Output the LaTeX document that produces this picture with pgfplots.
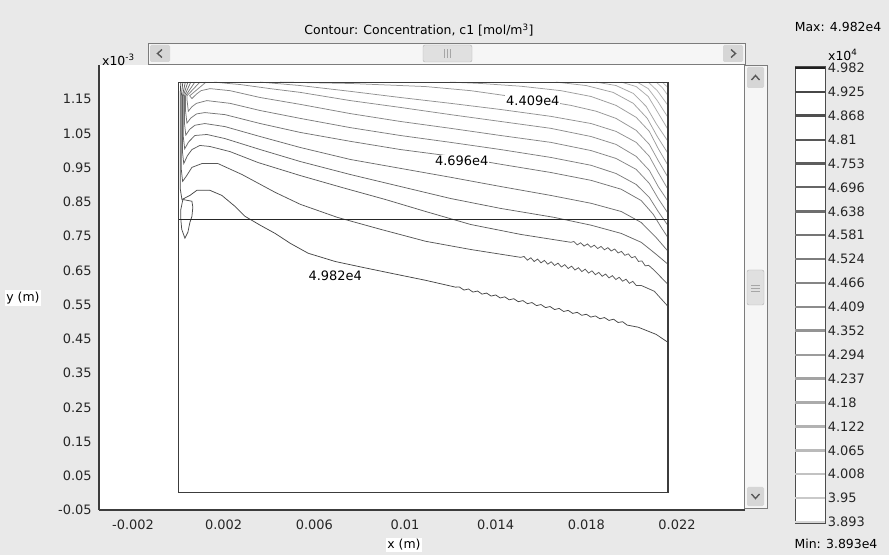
\documentclass[border=0pt]{standalone}
\usepackage{fontspec}
\setmainfont{DejaVu Sans}
\usepackage{pgfplots}
\pgfplotsset{compat=1.18}
\definecolor{bg}{HTML}{E9E9E9}
\definecolor{sbfill}{HTML}{F6F6F6}
\definecolor{sbedge}{HTML}{7C7C7C}
\definecolor{btn}{HTML}{D6D6D6}
\definecolor{frame}{HTML}{3C3C3C}
\newcommand\uif{\fontsize{12.5}{15}\selectfont}
\newcommand\tkf{\fontsize{13}{15}\selectfont}
\begin{document}
\uif
\begin{tikzpicture}
% window background
\fill[bg] (-99bp,-45bp) rectangle (790bp,510bp);

\begin{axis}[
    at={(0bp,0bp)}, anchor=south west,
    scale only axis, width=646bp, height=445bp,
    xmin=-0.0035, xmax=0.025, ymin=-0.05, ymax=1.25,
    axis x line*=bottom, axis y line*=left,
    axis line style={frame, line width=1.2bp},
    axis background/.style={fill=white},
    major tick length=0pt,
    scaled ticks=false,
    xtick={-0.002,0.002,0.006,0.01,0.014,0.018,0.022},
    xticklabels={-0.002,0.002,0.006,0.01,0.014,0.018,0.022},
    ytick={-0.05,0.05,0.15,0.25,0.35,0.45,0.55,0.65,0.75,0.85,0.95,1.05,1.15},
    yticklabels={-0.05,0.05,0.15,0.25,0.35,0.45,0.55,0.65,0.75,0.85,0.95,1.05,1.15},
    tick label style={font=\tkf, text=black!85},
    xticklabel style={yshift=-6bp},
    yticklabel style={xshift=-3bp},
    every axis plot/.append style={line width=0.75bp},
]

% contour lines, from 4.982e4 (bottom) upwards
\addplot[black!72] coordinates {(0.11e-3,1.2)(0.08e-3,1.16)(0.08e-3,0.89)(0.16e-3,0.857)(0.51e-3,0.869)(0.82e-3,0.884)(1.39e-3,0.884)(1.92e-3,0.869)(2.5e-3,0.837)(2.94e-3,0.808)(3.61e-3,0.782)(4.27e-3,0.758)(4.94e-3,0.729)(5.73e-3,0.7)(6.92e-3,0.676)(8.12e-3,0.659)(9.58e-3,0.639)(10.91e-3,0.621)(12.23e-3,0.601)
 (12.4e-3,0.6015)(12.6e-3,0.5925)(12.8e-3,0.5956)(13.0e-3,0.5866)(13.2e-3,0.5897)(13.4e-3,0.5807)(13.6e-3,0.5837)(13.8e-3,0.5749)(14.0e-3,0.5782)(14.2e-3,0.5694)(14.4e-3,0.5727)(14.6e-3,0.564)(14.8e-3,0.5672)(15.0e-3,0.5585)(15.2e-3,0.5617)(15.4e-3,0.5528)(15.6e-3,0.556)(15.8e-3,0.5471)(16.0e-3,0.5502)(16.2e-3,0.5413)(16.4e-3,0.5444)(16.6e-3,0.5356)(16.8e-3,0.5388)(17.0e-3,0.5299)(17.2e-3,0.5331)(17.4e-3,0.5243)(17.6e-3,0.5275)(17.8e-3,0.5187)(18.0e-3,0.5219)(18.2e-3,0.5135)(18.4e-3,0.517)(18.6e-3,0.5086)(18.8e-3,0.5122)(19.0e-3,0.5038)(19.2e-3,0.5074)(19.4e-3,0.4978)(19.6e-3,0.5)(19.8e-3,0.4902)
 (20.29e-3,0.484)(21.08e-3,0.463)(21.6e-3,0.44)};
\addplot[black!66] coordinates {(0.2e-3,1.2)(0.13e-3,1.16)(0.13e-3,0.945)(0.19e-3,0.91)(0.35e-3,0.925)(0.6e-3,0.951)(1.04e-3,0.962)(1.75e-3,0.962)(2.81e-3,0.93)(4.27e-3,0.878)(5.38e-3,0.843)(7.01e-3,0.805)(8.92e-3,0.77)(10.91e-3,0.735)(12.9e-3,0.711)(15.11e-3,0.688)
 (15.25e-3,0.6907)(15.4e-3,0.6798)(15.55e-3,0.6868)(15.7e-3,0.6759)(15.85e-3,0.683)(16.0e-3,0.672)(16.15e-3,0.6791)(16.3e-3,0.6681)(16.45e-3,0.6752)(16.6e-3,0.6643)(16.75e-3,0.6712)(16.9e-3,0.6599)(17.05e-3,0.6667)(17.2e-3,0.6555)(17.35e-3,0.6623)(17.5e-3,0.6511)(17.65e-3,0.6579)(17.8e-3,0.6466)(17.95e-3,0.6534)(18.1e-3,0.6422)(18.25e-3,0.6488)(18.4e-3,0.6374)(18.55e-3,0.6441)(18.7e-3,0.6327)(18.85e-3,0.6393)(19.0e-3,0.628)(19.15e-3,0.6346)(19.3e-3,0.6233)(19.45e-3,0.6299)(19.6e-3,0.6183)(19.75e-3,0.6242)(19.9e-3,0.6121)(20.05e-3,0.618)(20.2e-3,0.606)
 (20.42e-3,0.606)(21e-3,0.589)(21.6e-3,0.545)};
\addplot[black!63] coordinates {(0.31e-3,1.2)(0.18e-3,1.16)(0.18e-3,0.997)(0.24e-3,0.962)(0.4e-3,0.985)(0.6e-3,1.003)(0.95e-3,1.015)(1.39e-3,1.012)(2.28e-3,0.997)(3.52e-3,0.965)(5.38e-3,0.927)(7.23e-3,0.892)(9.14e-3,0.857)(10.91e-3,0.822)(12.9e-3,0.784)(15.11e-3,0.755)(17.32e-3,0.732)
 (17.45e-3,0.7344)(17.6e-3,0.7246)(17.75e-3,0.7308)(17.9e-3,0.721)(18.05e-3,0.7272)(18.2e-3,0.7174)(18.35e-3,0.7236)(18.5e-3,0.7138)(18.65e-3,0.72)(18.8e-3,0.7102)(18.95e-3,0.7164)(19.1e-3,0.7066)(19.25e-3,0.7125)(19.4e-3,0.701)(19.55e-3,0.7054)(19.7e-3,0.6939)(19.85e-3,0.6984)(20.0e-3,0.6868)(20.15e-3,0.6907)(20.3e-3,0.6762)(20.45e-3,0.6777)(20.6e-3,0.6632)(20.75e-3,0.6648)
 (21e-3,0.65)(21.6e-3,0.609)};
\addplot[black!60] coordinates {(0.42e-3,1.2)(0.22e-3,1.16)(0.22e-3,1.04)(0.28e-3,1.005)(0.45e-3,1.025)(0.73e-3,1.044)(1.26e-3,1.047)(2.06e-3,1.035)(3.61e-3,1.003)(5.38e-3,0.968)(7.59e-3,0.93)(9.8e-3,0.895)(12.01e-3,0.86)(14.22e-3,0.831)(16.57e-3,0.805)(18.21e-3,0.782)(19.54e-3,0.758)(20.42e-3,0.732)(21.08e-3,0.697)(21.6e-3,0.668)};
\addplot[black!57] coordinates {(0.55e-3,1.2)(0.27e-3,1.16)(0.27e-3,1.08)(0.33e-3,1.045)(0.5e-3,1.062)(0.73e-3,1.074)(1.17e-3,1.079)(2.06e-3,1.07)(3.61e-3,1.041)(5.38e-3,1.009)(7.59e-3,0.974)(9.8e-3,0.948)(12.01e-3,0.922)(14.22e-3,0.895)(16.43e-3,0.869)(18.21e-3,0.846)(19.54e-3,0.822)(20.42e-3,0.79)(21.08e-3,0.746)(21.6e-3,0.706)};
\addplot[black!54] coordinates {(0.73e-3,1.2)(0.32e-3,1.16)(0.32e-3,1.115)(0.38e-3,1.08)(0.55e-3,1.095)(0.8e-3,1.107)(1.17e-3,1.111)(2.06e-3,1.105)(3.61e-3,1.079)(5.38e-3,1.053)(7.59e-3,1.027)(9.8e-3,1.003)(12.46e-3,0.98)(14.22e-3,0.96)(16.43e-3,0.936)(18.21e-3,0.913)(19.54e-3,0.887)(20.42e-3,0.854)(20.95e-3,0.814)(21.3e-3,0.776)(21.6e-3,0.746)};
\addplot[black!51] coordinates {(0.95e-3,1.2)(0.38e-3,1.16)(0.38e-3,1.15)(0.44e-3,1.115)(0.6e-3,1.128)(0.8e-3,1.138)(1.26e-3,1.146)(2.28e-3,1.138)(3.61e-3,1.117)(5.38e-3,1.094)(7.59e-3,1.067)(9.8e-3,1.044)(12.01e-3,1.024)(14.22e-3,1.003)(16.43e-3,0.98)(18.21e-3,0.957)(19.31e-3,0.933)(20.2e-3,0.901)(20.78e-3,0.863)(21.17e-3,0.822)(21.6e-3,0.781)};
\addplot[black!48] coordinates {(1.22e-3,1.2)(0.5e-3,1.16)(0.6e-3,1.152)(0.8e-3,1.165)(1.0e-3,1.175)(1.4e-3,1.181)(2.28e-3,1.175)(3.61e-3,1.155)(5.38e-3,1.135)(7.59e-3,1.108)(9.8e-3,1.085)(12.01e-3,1.065)(14.22e-3,1.044)(16.43e-3,1.024)(18.21e-3,1.0)(19.31e-3,0.977)(20.2e-3,0.945)(20.78e-3,0.904)(21.17e-3,0.86)(21.6e-3,0.817)};
\addplot[black!45] coordinates {(1.6e-3,1.2)(2.2e-3,1.196)(2.72e-3,1.193)(4.05e-3,1.181)(5.38e-3,1.17)(7.59e-3,1.146)(9.8e-3,1.126)(12.01e-3,1.105)(14.22e-3,1.085)(16.43e-3,1.065)(18.21e-3,1.041)(19.31e-3,1.018)(20.2e-3,0.983)(20.78e-3,0.942)(21.17e-3,0.895)(21.6e-3,0.852)};
\addplot[black!43] coordinates {(3.61e-3,1.2)(5.38e-3,1.19)(7.59e-3,1.173)(9.8e-3,1.155)(12.01e-3,1.138)(14.22e-3,1.12)(16.43e-3,1.1)(18.21e-3,1.079)(19.31e-3,1.056)(20.2e-3,1.024)(20.78e-3,0.983)(21.17e-3,0.936)(21.6e-3,0.887)};
\addplot[black!41] coordinates {(4.5e-3,1.2)(7.59e-3,1.196)(10.91e-3,1.187)(12.9e-3,1.175)(14.5e-3,1.16)(15.99e-3,1.147)(17.32e-3,1.132)(18.43e-3,1.115)(19.31e-3,1.094)(20.2e-3,1.059)(20.78e-3,1.018)(21.17e-3,0.971)(21.6e-3,0.922)};
\addplot[black!39] coordinates {(12e-3,1.2)(13.34e-3,1.196)(15.11e-3,1.188)(16.88e-3,1.175)(18.21e-3,1.158)(19.31e-3,1.132)(20.2e-3,1.097)(20.78e-3,1.056)(21.17e-3,1.006)(21.6e-3,0.957)};
\addplot[black!37] coordinates {(16.66e-3,1.2)(17.99e-3,1.19)(19.18e-3,1.17)(20.07e-3,1.138)(20.69e-3,1.094)(21.13e-3,1.041)(21.6e-3,0.992)};
\addplot[black!35] coordinates {(18.43e-3,1.2)(19.31e-3,1.19)(20.07e-3,1.167)(20.64e-3,1.129)(21.08e-3,1.079)(21.6e-3,1.027)};
\addplot[black!33] coordinates {(19.54e-3,1.2)(20.2e-3,1.187)(20.73e-3,1.158)(21.13e-3,1.114)(21.6e-3,1.062)};
\addplot[black!31] coordinates {(20.24e-3,1.2)(20.73e-3,1.181)(21.13e-3,1.146)(21.6e-3,1.097)};
\addplot[black!29] coordinates {(20.73e-3,1.2)(21.13e-3,1.175)(21.6e-3,1.132)};
\addplot[black!27] coordinates {(21.08e-3,1.2)(21.35e-3,1.184)(21.6e-3,1.161)};
\addplot[black!25] coordinates {(21.35e-3,1.2)(21.6e-3,1.184)};
% small closed contour near the inlet corner
\addplot[black!70] coordinates {(0.2e-3,0.857)(0.6e-3,0.852)(0.64e-3,0.834)(0.6e-3,0.808)(0.51e-3,0.79)(0.42e-3,0.761)(0.29e-3,0.744)(0.15e-3,0.77)(0.11e-3,0.799)(0.11e-3,0.828)(0.2e-3,0.857)};

% geometry: domain boundary and interior boundary
\addplot[black!85, line width=1bp] coordinates {(0,0.8)(21.6e-3,0.8)};
\addplot[frame, line width=1.2bp] coordinates {(0,0)(21.6e-3,0)(21.6e-3,1.2)(0,1.2)(0,0)};

% contour labels
\node[font=\tkf, fill=white, inner sep=1bp] at (axis cs:15.64e-3,1.146) {4.409e4};
\node[font=\tkf, fill=white, inner sep=1bp] at (axis cs:12.5e-3,0.971) {4.696e4};
\node[font=\tkf, inner sep=1bp] at (axis cs:6.92e-3,0.633) {4.982e4};
\end{axis}

% colour legend
\begin{axis}[
    at={(696bp,-13.7bp)}, anchor=south west,
    scale only axis, width=30bp, height=457.3bp,
    xmin=0, xmax=1, ymin=3.889, ymax=4.986,
    axis line style={black!70, line width=1bp},
    axis background/.style={fill=white},
    xtick=\empty, major tick length=0pt,
    ytick={3.893,3.95,4.008,4.065,4.122,4.18,4.237,4.294,4.352,4.409,4.466,4.524,4.581,4.638,4.696,4.753,4.81,4.868,4.925,4.982},
    yticklabels={3.893,3.95,4.008,4.065,4.122,4.18,4.237,4.294,4.352,4.409,4.466,4.524,4.581,4.638,4.696,4.753,4.81,4.868,4.925,4.982},
    yticklabel pos=right,
    tick label style={font=\tkf, text=black!85},
    yticklabel style={xshift=-1.5bp},
    every axis plot/.append style={line width=2.4bp},
]
\addplot[black!16] coordinates {(0,3.893)(1,3.893)};
\addplot[black!21] coordinates {(0,3.95)(1,3.95)};
\addplot[black!24] coordinates {(0,4.008)(1,4.008)};
\addplot[black!27] coordinates {(0,4.065)(1,4.065)};
\addplot[black!30] coordinates {(0,4.122)(1,4.122)};
\addplot[black!33] coordinates {(0,4.18)(1,4.18)};
\addplot[black!36] coordinates {(0,4.237)(1,4.237)};
\addplot[black!39] coordinates {(0,4.294)(1,4.294)};
\addplot[black!42] coordinates {(0,4.352)(1,4.352)};
\addplot[black!45] coordinates {(0,4.409)(1,4.409)};
\addplot[black!48] coordinates {(0,4.466)(1,4.466)};
\addplot[black!51] coordinates {(0,4.524)(1,4.524)};
\addplot[black!54] coordinates {(0,4.581)(1,4.581)};
\addplot[black!57] coordinates {(0,4.638)(1,4.638)};
\addplot[black!60] coordinates {(0,4.696)(1,4.696)};
\addplot[black!63] coordinates {(0,4.753)(1,4.753)};
\addplot[black!66] coordinates {(0,4.81)(1,4.81)};
\addplot[black!69] coordinates {(0,4.868)(1,4.868)};
\addplot[black!72] coordinates {(0,4.925)(1,4.925)};
\addplot[black!88] coordinates {(0,4.982)(1,4.982)};
\end{axis}

\begin{scope}[x=1bp, y=1bp]
% horizontal scroll bar
\draw[sbedge, fill=sbfill] (49,446) rectangle (646,467);
\fill[btn, rounded corners=1.5] (51,448) rectangle (71,465);
\draw[black!65, line width=1.4] (63,452.5) -- (58.5,456.5) -- (63,460.5);
\fill[btn, rounded corners=1.5] (624,448) rectangle (644,465);
\draw[black!65, line width=1.4] (632,452.5) -- (636.5,456.5) -- (632,460.5);
\draw[black!30, fill=btn!75, rounded corners=2] (324,448) rectangle (373,465);
\foreach \gx in {345,348,351} \draw[black!35, line width=0.7] (\gx,452) -- (\gx,461);
% vertical scroll bar
\draw[sbedge, fill=sbfill] (645,2) rectangle (668,445);
\fill[btn, rounded corners=1.5] (648,422) rectangle (665,443);
\draw[black!65, line width=1.4] (652.5,430) -- (656.5,434.5) -- (660.5,430);
\fill[btn, rounded corners=1.5] (648,4) rectangle (665,23);
\draw[black!65, line width=1.4] (652.5,16) -- (656.5,11.5) -- (660.5,16);
\draw[black!30, fill=btn!75, rounded corners=2] (648,205) rectangle (665,240);
\foreach \gy in {219,222,225} \draw[black!35, line width=0.7] (652,\gy) -- (661,\gy);
% texts
\node[font=\uif] at (320,480) {Contour: Concentration, c1 [mol/m\textsuperscript{3}]};
\node[font=\uif, anchor=west, inner sep=0] at (3,450) {x10\textsuperscript{-3}};
\node[font=\uif, fill=white, inner sep=1.5] at (305,-35) {x (m)};
\node[font=\uif, fill=white, inner sep=1.5] at (-76,212) {y (m)};
\node[font=\uif] at (739,483) {Max: 4.982e4};
\node[font=\uif, anchor=west, inner sep=0] at (729,455) {x10\textsuperscript{4}};
\node[font=\uif] at (737,-34) {Min: 3.893e4};
\end{scope}
\pgfresetboundingbox
\useasboundingbox (-99bp,-45bp) rectangle (790bp,510bp);
\end{tikzpicture}
\end{document}
